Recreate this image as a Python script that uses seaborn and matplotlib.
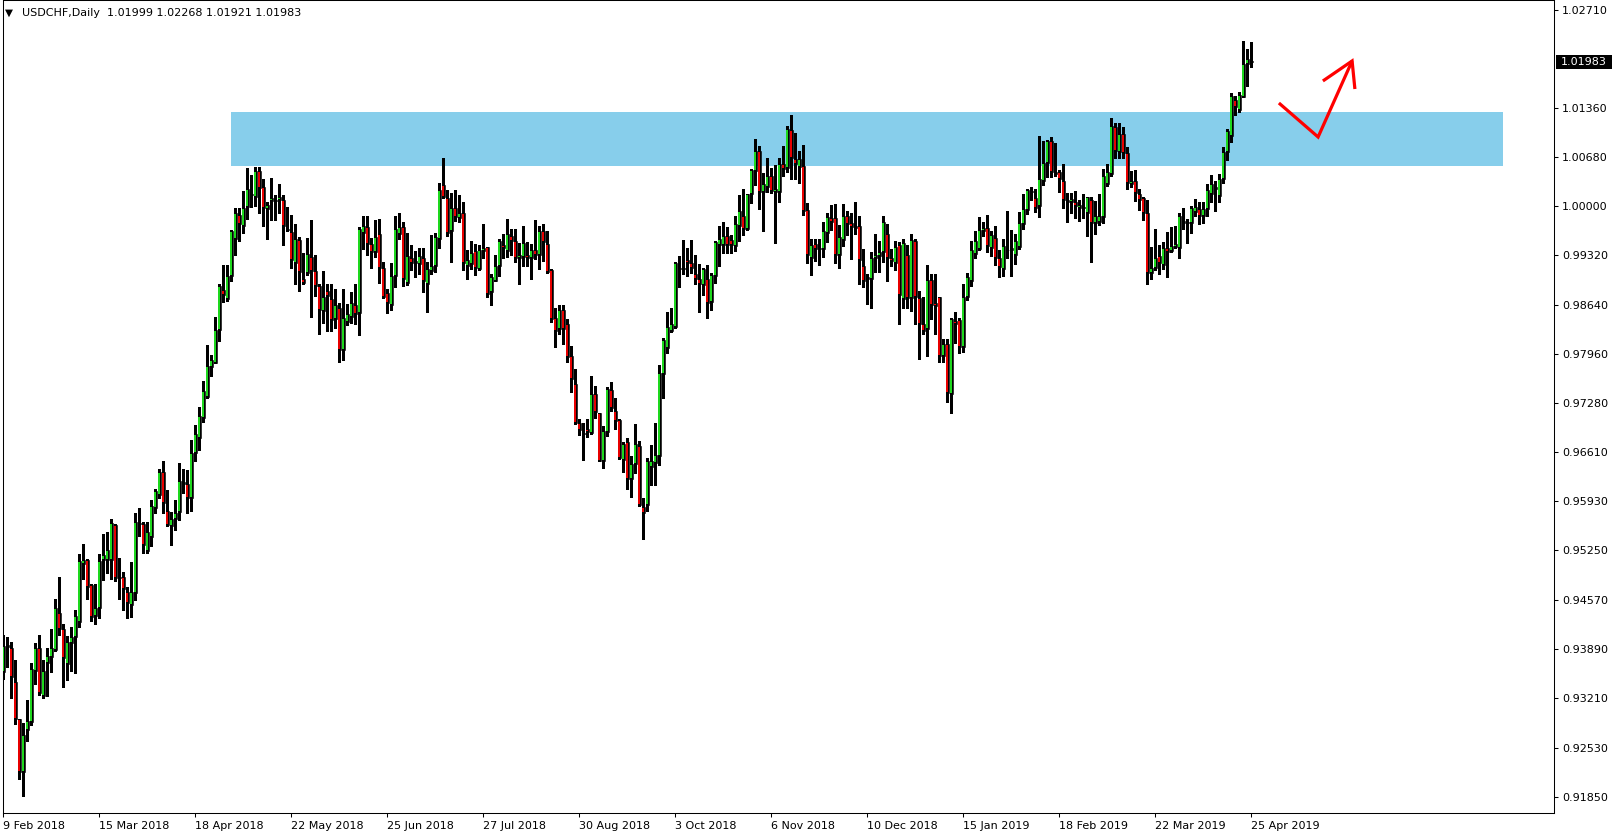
import matplotlib
matplotlib.use("Agg")
import matplotlib.pyplot as plt
from matplotlib.patches import Rectangle
import seaborn as sns
import pandas as pd
import numpy as np

sns.set_style("white")
plt.rcParams['font.family'] = ['DejaVu Sans']

# ---------------- data (USDCHF daily OHLC) ----------------
opens = [
0.9357,0.9395,0.9391,0.9344,0.9292,0.9219,0.9277,0.9288,0.9359,0.9390,
0.9324,0.9370,0.9378,0.9387,0.9439,0.9416,0.9368,0.9397,0.9405,0.9426,
0.9506,0.9512,0.9477,0.9435,0.9446,0.9512,0.9512,0.9512,0.9560,0.9489,
0.9489,0.9467,0.9450,0.9466,0.9563,0.9562,0.9524,0.9544,0.9583,0.9602,
0.9633,0.9580,0.9558,0.9568,0.9578,0.9619,0.9616,0.9597,0.9660,0.9680,
0.9707,0.9736,0.9778,0.9784,0.9829,0.9884,0.9872,0.9903,0.9954,0.9988,
0.9973,0.9999,1.0016,1.0013,1.0048,1.0026,0.9996,1.0007,1.0007,1.0008,
1.0009,0.9969,0.9964,0.9921,0.9953,0.9900,0.9908,0.9930,0.9910,0.9890,
0.9855,0.9883,0.9872,0.9844,0.9859,0.9801,0.9840,0.9847,0.9864,0.9852,
0.9963,0.9971,0.9948,0.9937,0.9962,0.9914,0.9880,0.9864,0.9904,0.9962,
0.9971,0.9894,0.9929,0.9924,0.9920,0.9928,0.9892,0.9910,0.9917,0.9955,
1.0029,1.0011,0.9966,0.9998,0.9984,0.9990,0.9917,0.9920,0.9938,0.9913,
0.9938,0.9943,0.9881,0.9897,0.9918,0.9947,0.9938,0.9959,0.9952,0.9928,
0.9930,0.9932,0.9928,0.9939,0.9932,0.9966,0.9948,0.9912,0.9846,0.9830,
0.9856,0.9837,0.9793,0.9755,0.9701,0.9687,0.9693,0.9687,0.9741,0.9714,
0.9649,0.9689,0.9746,0.9718,0.9705,0.9650,0.9674,0.9623,0.9644,0.9669,
0.9585,0.9587,0.9640,0.9645,0.9655,0.9769,0.9804,0.9827,0.9833,0.9913,
0.9913,0.9925,0.9921,0.9906,0.9899,0.9891,0.9899,0.9868,0.9903,0.9946,
0.9947,0.9959,0.9953,0.9945,0.9973,0.9987,0.9969,1.0016,1.0049,1.0076,
1.0020,1.0027,1.0041,1.0019,1.0019,1.0058,1.0053,1.0105,1.0065,1.0054,
1.0055,0.9994,0.9929,0.9948,0.9942,0.9941,0.9963,0.9983,0.9983,0.9933,
0.9953,0.9987,0.9976,0.9972,0.9972,0.9917,0.9902,0.9899,0.9929,0.9931,
0.9936,0.9961,0.9928,0.9921,0.9946,0.9872,0.9933,0.9873,0.9952,0.9873,
0.9837,0.9830,0.9898,0.9866,0.9874,0.9793,0.9810,0.9741,0.9841,0.9843,
0.9806,0.9874,0.9897,0.9934,0.9941,0.9965,0.9970,0.9942,0.9956,0.9928,
0.9913,0.9940,0.9939,0.9932,0.9944,0.9975,0.9994,1.0020,1.0011,1.0000,
1.0034,1.0060,1.0090,1.0047,1.0047,1.0034,1.0008,1.0005,1.0005,0.9998,
0.9999,0.9991,1.0009,0.9976,0.9978,0.9985,1.0031,1.0044,1.0109,1.0074,
1.0099,1.0073,1.0031,1.0035,1.0016,1.0011,0.9990,0.9908,0.9915,0.9931,
0.9919,0.9942,0.9938,0.9944,0.9942,0.9977,0.9978,0.9977,0.9992,0.9996,
0.9987,0.9996,1.0016,1.0026,1.0014,1.0037,1.0074,1.0097,1.0147,1.0133,
1.0151,1.0196,1.01999]

highs = [
0.9408,0.9406,0.9399,0.9374,0.9293,0.9287,0.9319,0.9370,0.9397,0.9409,
0.9374,0.9391,0.9416,0.9458,0.9489,0.9424,0.9407,0.9419,0.9443,0.9520,
0.9534,0.9513,0.9479,0.9479,0.9520,0.9548,0.9550,0.9568,0.9561,0.9514,
0.9495,0.9475,0.9509,0.9576,0.9583,0.9564,0.9564,0.9595,0.9610,0.9638,
0.9648,0.9608,0.9578,0.9595,0.9646,0.9637,0.9636,0.9677,0.9698,0.9723,
0.9759,0.9808,0.9794,0.9847,0.9893,0.9919,0.9919,0.9967,0.9997,0.9997,
1.0021,1.0053,1.0043,1.0054,1.0054,1.0037,1.0006,1.0039,1.0015,1.0031,
1.0015,0.9999,0.9988,0.9975,0.9958,0.9935,0.9956,0.9981,0.9932,0.9892,
0.9910,0.9892,0.9892,0.9886,0.9867,0.9886,0.9865,0.9881,0.9892,0.9971,
0.9986,0.9987,0.9956,0.9981,0.9982,0.9923,0.9886,0.9921,0.9987,0.9990,
0.9978,0.9963,0.9947,0.9938,0.9942,0.9942,0.9923,0.9960,0.9963,1.0032,
1.0066,1.0022,1.0018,1.0022,1.0015,1.0006,0.9939,0.9952,0.9948,0.9947,
0.9975,0.9944,0.9906,0.9932,0.9955,0.9962,0.9982,0.9969,0.9968,0.9949,
0.9972,0.9951,0.9948,0.9981,0.9972,0.9975,0.9966,0.9913,0.9859,0.9864,
0.9863,0.9844,0.9807,0.9775,0.9706,0.9701,0.9706,0.9765,0.9752,0.9715,
0.9696,0.9751,0.9757,0.9735,0.9706,0.9675,0.9680,0.9655,0.9699,0.9676,
0.9597,0.9652,0.9670,0.9701,0.9781,0.9818,0.9854,0.9860,0.9923,0.9931,
0.9953,0.9942,0.9953,0.9932,0.9920,0.9915,0.9919,0.9908,0.9952,0.9972,
0.9978,0.9971,0.9960,0.9987,1.0015,1.0023,1.0017,1.0051,1.0092,1.0083,
1.0045,1.0066,1.0052,1.0057,1.0067,1.0083,1.0110,1.0126,1.0101,1.0076,
1.0084,1.0004,0.9955,0.9955,0.9955,0.9978,0.9991,1.0001,1.0003,0.9974,
1.0003,0.9993,0.9990,1.0006,0.9987,0.9941,0.9906,0.9936,0.9962,0.9952,
0.9987,0.9975,0.9941,0.9952,0.9951,0.9955,0.9947,0.9961,0.9955,0.9883,
0.9874,0.9919,0.9907,0.9906,0.9875,0.9816,0.9816,0.9846,0.9854,0.9845,
0.9892,0.9908,0.9952,0.9965,0.9985,0.9978,0.9988,0.9965,0.9972,0.9939,
0.9954,0.9993,0.9967,0.9961,0.9992,1.0017,1.0024,1.0026,1.0024,1.0097,
1.0090,1.0091,1.0095,1.0087,1.0050,1.0058,1.0018,1.0018,1.0021,1.0008,
1.0017,1.0013,1.0012,1.0007,1.0017,1.0051,1.0058,1.0121,1.0115,1.0115,
1.0109,1.0081,1.0048,1.0050,1.0023,1.0012,1.0009,0.9943,0.9968,0.9947,
0.9950,0.9964,0.9971,0.9972,0.9991,0.9998,0.9982,1.0000,1.0010,1.0006,
1.0005,1.0030,1.0043,1.0034,1.0044,1.0081,1.0106,1.0156,1.0152,1.0157,
1.0228,1.0217,1.02268]

lows = [
0.9348,0.9364,0.9322,0.9285,0.9210,0.9186,0.9262,0.9284,0.9341,0.9325,
0.9322,0.9324,0.9357,0.9386,0.9408,0.9337,0.9346,0.9359,0.9356,0.9420,
0.9486,0.9458,0.9428,0.9423,0.9432,0.9484,0.9494,0.9486,0.9483,0.9458,
0.9443,0.9432,0.9433,0.9457,0.9545,0.9522,0.9522,0.9531,0.9576,0.9597,
0.9577,0.9558,0.9533,0.9553,0.9567,0.9604,0.9576,0.9580,0.9649,0.9664,
0.9702,0.9735,0.9765,0.9783,0.9814,0.9868,0.9869,0.9897,0.9932,0.9952,
0.9963,0.9982,0.9999,1.0000,0.9991,0.9973,0.9955,0.9981,0.9981,0.9991,
0.9946,0.9966,0.9915,0.9892,0.9883,0.9892,0.9905,0.9847,0.9876,0.9824,
0.9839,0.9827,0.9828,0.9832,0.9785,0.9788,0.9836,0.9839,0.9838,0.9822,
0.9941,0.9933,0.9915,0.9930,0.9894,0.9873,0.9853,0.9856,0.9889,0.9955,
0.9890,0.9891,0.9912,0.9902,0.9906,0.9882,0.9854,0.9906,0.9909,0.9942,
1.0011,0.9959,0.9923,0.9980,0.9978,0.9912,0.9899,0.9913,0.9905,0.9912,
0.9929,0.9875,0.9864,0.9896,0.9904,0.9929,0.9930,0.9933,0.9923,0.9892,
0.9917,0.9917,0.9899,0.9927,0.9913,0.9924,0.9908,0.9840,0.9806,0.9824,
0.9810,0.9785,0.9743,0.9699,0.9684,0.9650,0.9681,0.9685,0.9708,0.9648,
0.9639,0.9683,0.9718,0.9693,0.9651,0.9633,0.9610,0.9598,0.9632,0.9586,
0.9541,0.9580,0.9615,0.9615,0.9643,0.9735,0.9797,0.9826,0.9832,0.9889,
0.9907,0.9904,0.9908,0.9892,0.9854,0.9878,0.9845,0.9856,0.9894,0.9918,
0.9935,0.9935,0.9935,0.9938,0.9952,0.9960,0.9967,1.0004,1.0029,0.9996,
0.9965,1.0020,1.0018,0.9949,1.0005,1.0042,1.0047,1.0038,1.0038,1.0032,
0.9988,0.9921,0.9905,0.9924,0.9919,0.9930,0.9951,0.9967,0.9921,0.9915,
0.9945,0.9960,0.9927,0.9962,0.9892,0.9888,0.9865,0.9860,0.9909,0.9909,
0.9923,0.9897,0.9918,0.9912,0.9838,0.9859,0.9860,0.9855,0.9838,0.9789,
0.9824,0.9793,0.9844,0.9824,0.9785,0.9785,0.9730,0.9714,0.9811,0.9798,
0.9799,0.9870,0.9890,0.9929,0.9940,0.9959,0.9937,0.9931,0.9919,0.9902,
0.9904,0.9929,0.9904,0.9920,0.9941,0.9969,0.9989,1.0008,0.9992,0.9985,
1.0029,1.0040,1.0040,1.0041,1.0020,0.9998,0.9978,0.9990,0.9984,0.9980,
0.9984,0.9959,0.9923,0.9961,0.9974,0.9977,1.0028,1.0041,1.0067,1.0067,
1.0067,1.0023,1.0026,1.0007,0.9994,0.9981,0.9892,0.9900,0.9912,0.9906,
0.9913,0.9902,0.9936,0.9942,0.9929,0.9968,0.9949,0.9963,0.9986,0.9975,
0.9977,0.9987,1.0006,0.9993,1.0006,1.0032,1.0064,1.0089,1.0126,1.0130,
1.0150,1.0165,1.01921]

closes = [
0.9393,0.9392,0.9350,0.9292,0.9219,0.9270,0.9289,0.9361,0.9390,0.9328,
0.9359,0.9379,0.9390,0.9445,0.9417,0.9376,0.9398,0.9405,0.9434,0.9510,
0.9512,0.9475,0.9433,0.9446,0.9511,0.9518,0.9525,0.9563,0.9487,0.9487,
0.9472,0.9453,0.9467,0.9564,0.9562,0.9533,0.9551,0.9586,0.9607,0.9633,
0.9590,0.9560,0.9568,0.9576,0.9621,0.9616,0.9597,0.9660,0.9685,0.9711,
0.9745,0.9779,0.9787,0.9829,0.9890,0.9877,0.9903,0.9966,0.9990,0.9975,
0.9997,1.0023,1.0015,1.0048,1.0025,0.9998,1.0002,1.0011,1.0008,1.0013,
0.9972,0.9967,0.9925,0.9954,0.9909,0.9894,0.9934,0.9910,0.9890,0.9856,
0.9875,0.9876,0.9843,0.9863,0.9802,0.9846,0.9851,0.9866,0.9851,0.9968,
0.9973,0.9948,0.9937,0.9958,0.9915,0.9874,0.9867,0.9903,0.9968,0.9971,
0.9899,0.9931,0.9922,0.9922,0.9931,0.9896,0.9913,0.9917,0.9957,1.0022,
1.0013,0.9963,0.9998,0.9985,0.9990,0.9922,0.9925,0.9935,0.9914,0.9939,
0.9942,0.9879,0.9902,0.9917,0.9952,0.9942,0.9962,0.9952,0.9929,0.9933,
0.9949,0.9928,0.9939,0.9932,0.9966,0.9951,0.9909,0.9844,0.9828,0.9857,
0.9831,0.9792,0.9761,0.9701,0.9691,0.9686,0.9689,0.9741,0.9716,0.9649,
0.9690,0.9748,0.9722,0.9704,0.9653,0.9672,0.9623,0.9644,0.9672,0.9587,
0.9577,0.9648,0.9649,0.9656,0.9770,0.9815,0.9833,0.9838,0.9921,0.9915,
0.9915,0.9921,0.9915,0.9900,0.9892,0.9913,0.9866,0.9905,0.9950,0.9954,
0.9959,0.9946,0.9946,0.9975,0.9993,0.9968,1.0016,1.0050,1.0076,1.0020,
1.0030,1.0041,1.0021,1.0023,1.0058,1.0051,1.0106,1.0066,1.0058,1.0065,
0.9993,0.9933,0.9946,0.9941,0.9941,0.9966,0.9985,0.9978,0.9933,0.9958,
0.9986,0.9975,0.9971,0.9970,0.9926,0.9896,0.9900,0.9929,0.9932,0.9936,
0.9978,0.9929,0.9924,0.9943,0.9877,0.9949,0.9873,0.9953,0.9874,0.9838,
0.9827,0.9898,0.9864,0.9862,0.9793,0.9810,0.9742,0.9844,0.9837,0.9806,
0.9874,0.9902,0.9939,0.9952,0.9967,0.9970,0.9945,0.9960,0.9929,0.9916,
0.9945,0.9939,0.9942,0.9952,0.9976,0.9996,1.0022,1.0021,0.9997,1.0038,
1.0059,1.0090,1.0047,1.0044,1.0037,1.0009,1.0005,1.0010,1.0000,1.0001,
0.9997,1.0012,0.9976,0.9987,0.9986,1.0041,1.0047,1.0110,1.0076,1.0100,
1.0073,1.0032,1.0035,1.0018,1.0009,0.9991,0.9908,0.9915,0.9929,0.9921,
0.9942,0.9937,0.9945,0.9948,0.9987,0.9979,0.9976,0.9997,0.9999,0.9987,
0.9996,1.0022,1.0030,1.0023,1.0038,1.0074,1.0104,1.0152,1.0137,1.0153,
1.0196,1.0203,1.01983]

date_labels = ['9 Feb 2018', '15 Mar 2018', '18 Apr 2018', '22 May 2018',
               '25 Jun 2018', '27 Jul 2018', '30 Aug 2018', '3 Oct 2018',
               '6 Nov 2018', '10 Dec 2018', '15 Jan 2019', '18 Feb 2019',
               '22 Mar 2019', '25 Apr 2019']
date_label_bars = [0, 24, 48, 72, 96, 120, 144, 168, 192, 216, 240, 264, 288, 312]

price_ticks = [1.02710, 1.01360, 1.00680, 1.00000, 0.99320, 0.98640, 0.97960,
               0.97280, 0.96610, 0.95930, 0.95250, 0.94570, 0.93890, 0.93210,
               0.92530, 0.91850]

symbol_title = "USDCHF,Daily  1.01999 1.02268 1.01921 1.01983"
last_price = 1.01983

# resistance zone (bar index range, price range)
zone_bars = [56.9, 374.85]
zone_prices = [1.00557, 1.01302]

# hand-drawn arrow (bar index, price)
arrow_bars = [318.9, 328.7, 337.2]
arrow_prices = [1.01422, 1.00953, 1.02002]
head_left = [329.9, 1.01726]
head_right = [337.9, 1.01615]

# ---------------- build ----------------
n = len(opens)
assert len(highs) == n and len(lows) == n and len(closes) == n
df = pd.DataFrame({'bar': np.arange(n), 'open': opens, 'high': highs,
                   'low': lows, 'close': closes})
df['bull'] = df['close'] >= df['open']
df['body_lo'] = df[['open', 'close']].min(axis=1)
df['body_h'] = (df['close'] - df['open']).abs()

W, H = 1618, 838
fig = plt.figure(figsize=(W / 100, H / 100), dpi=100)
fig.patch.set_facecolor('white')
ax_l, ax_r, ax_t, ax_b = 2.7, 1554.3, 0.5, 813.0
ax = fig.add_axes([ax_l / W, (H - ax_b) / H, (ax_r - ax_l) / W, (ax_b - ax_t) / H])
ax.set_facecolor('white')

GREEN = '#1ED81E'
RED = '#E80000'

ax.add_patch(Rectangle((zone_bars[0], zone_prices[0]),
                       zone_bars[1] - zone_bars[0], zone_prices[1] - zone_prices[0],
                       facecolor='#87CEEB', edgecolor='none', zorder=0))

ax.vlines(df['bar'], df['low'], df['high'], color='black', linewidth=0.75,
          zorder=2, antialiased=False)
# body outline (black) then colour fill inside
ax.bar(df['bar'], df['body_h'], bottom=df['body_lo'], width=0.8,
       color='black', edgecolor='black', linewidth=0.4, zorder=3, antialiased=True)
inner_h = np.maximum(df['body_h'] - 2 / 7249, 0)
ax.bar(df['bar'], inner_h, bottom=df['body_lo'] + 1 / 7249, width=0.48,
       color=np.where(df['bull'], GREEN, RED), edgecolor='none', linewidth=0,
       zorder=4, antialiased=True)

# arrow
ax.plot(arrow_bars, arrow_prices, color='#FF0000', linewidth=2.3, zorder=5,
        solid_joinstyle='miter', solid_capstyle='butt')
ax.plot([head_left[0], arrow_bars[2], head_right[0]],
        [head_left[1], arrow_prices[2], head_right[1]],
        color='#FF0000', linewidth=2.3, zorder=5, solid_joinstyle='miter',
        solid_capstyle='butt')

ax.set_xlim(-0.15, 387.75)
ax.set_ylim(1.02843 - ax_b / 7249, 1.02843 - ax_t / 7249)

ax.yaxis.tick_right()
ax.set_yticks(price_ticks)
ax.set_yticklabels([f"{v:.5f}" for v in price_ticks])
ax.set_xticks(date_label_bars)
ax.set_xticklabels(date_labels, ha='left')
ax.tick_params(axis='y', which='both', direction='out', length=3, width=0.75,
               pad=2.5, labelsize=8, colors='black', left=False, right=True)
ax.tick_params(axis='x', which='both', direction='out', length=3, width=0.75,
               pad=2.5, labelsize=8, colors='black', top=False, bottom=True)
for s in ax.spines.values():
    s.set_color('black')
    s.set_linewidth(0.75)
    s.set_visible(True)
ax.grid(False)

# title
fig.text(5 / W, 1 - 13 / H, "\u25BC", fontsize=7.5, va='center', ha='left', color='black')
fig.text(21.5 / W, 1 - 13.5 / H, symbol_title, fontsize=8, va='center', ha='left', color='black')

# current price box
y_last_px = (1.02843 - last_price) * 7249
fig.patches.append(Rectangle((1556 / W, 1 - (y_last_px + 7) / H), 56 / W, 14 / H,
                             transform=fig.transFigure, facecolor='black',
                             edgecolor='none', zorder=5))
fig.text(1561 / W, 1 - y_last_px / H, f"{last_price:.5f}", fontsize=8, color='white',
         va='center', ha='left', zorder=6)

fig.savefig('out.png', dpi=100, facecolor='white')
